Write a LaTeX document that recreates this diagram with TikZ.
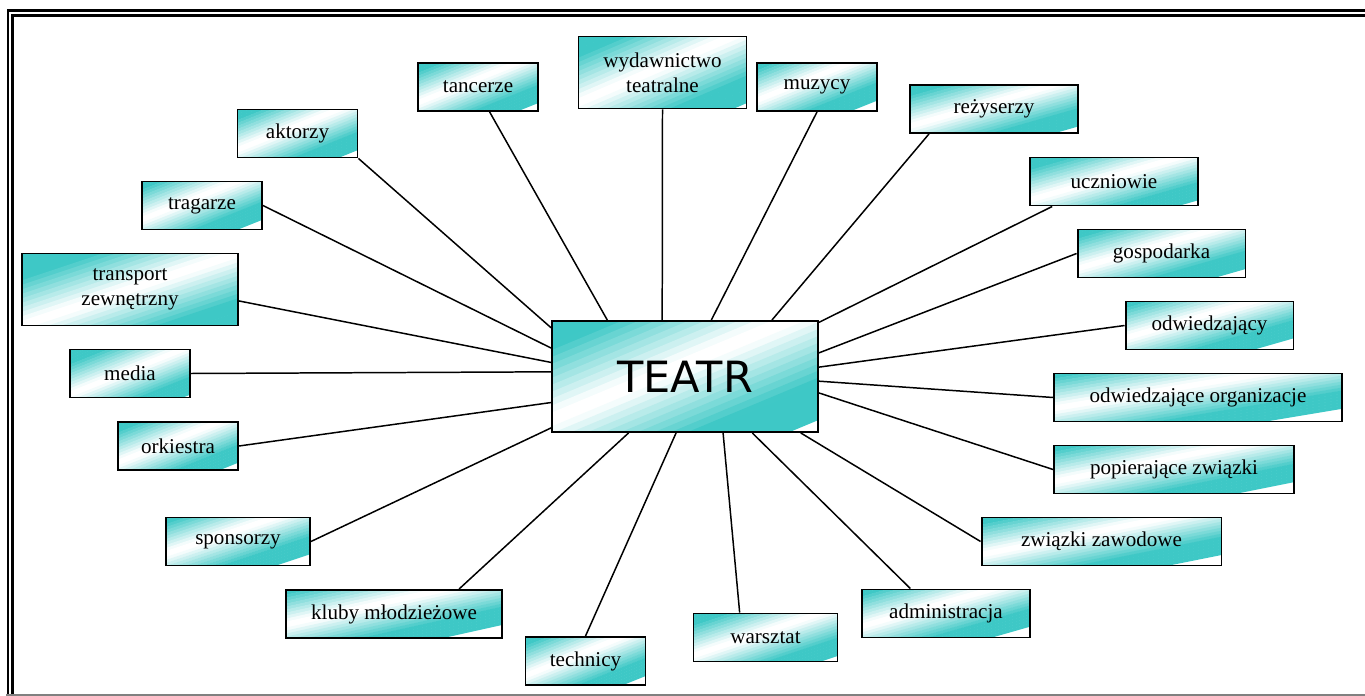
\documentclass[tikz,border=0pt]{standalone}
\usepackage{fontspec}
\setmainfont{Liberation Serif}
\newfontfamily\teatrfont{DejaVu Sans}
\usepackage{xcolor}

\definecolor{morski}{RGB}{62,200,198}
\newdimen\kafw
\newdimen\kafh

\tikzset{
  % ukosny gradient: morski w rogach lewy-gorny i prawy-dolny
  tecza/.style={path picture={
    \pgfextractx{\kafw}{\pgfpointdiff{\pgfpointanchor{path picture bounding box}{south west}}{\pgfpointanchor{path picture bounding box}{north east}}}
    \pgfextracty{\kafh}{\pgfpointdiff{\pgfpointanchor{path picture bounding box}{south west}}{\pgfpointanchor{path picture bounding box}{north east}}}
    \begin{scope}[x={(\kafw,0pt)}, y={(0pt,\kafh)}, shift={(path picture bounding box.south west)}]
      \foreach \k in {0,...,31}{
        \pgfmathsetmacro\ca{\k/16-1}
        \pgfmathsetmacro\cb{(\k+1)/16-1+0.008}
        \pgfmathsetmacro\odc{100*min(1,max(0,(abs((\k+0.5)/32-0.5)-0.03)/0.3))}
        \fill[morski!\odc!white] (\ca-1,-1) -- (\ca+2,2) -- (\cb+2,2) -- (\cb-1,-1) -- cycle;
      }
    \end{scope}}},
  ogniwo/.style={draw, line width=1.1pt, tecza, inner sep=0pt,
    minimum width=#1*0.48cm, minimum height=0.96cm, align=center,
    font=\fontsize{12}{14}\selectfont},
  ogniwo/.default=5,
  promien/.style={line width=0.85pt},
}

\begin{document}
\begin{tikzpicture}[x=0.02cm, y=-0.02cm]
\useasboundingbox (0,0) rectangle (1365,696);

% ramka
\draw[line width=1.4pt] (8,695) -- (8,10.5) -- (1365,10.5);
\draw[line width=1.7pt] (12.5,695) -- (12.5,15.5) -- (1365,15.5);
\draw[gray, line width=0.6pt] (6,695) -- (1365,695);

\node[ogniwo, minimum width=5.32cm, minimum height=2.22cm,
  font=\teatrfont\fontsize{24.5}{28}\selectfont] (teatr) at (685,376.5) {TEATR};

% lewa strona
\node[ogniwo] (aktorzy) at (297.5,133.5) {aktorzy};
\node[ogniwo] (tragarze) at (202,205.5) {tragarze};
\node[ogniwo=9, minimum height=1.44cm] (transport) at (130,289.5) {transport\\zewnętrzny};
\node[ogniwo] (media) at (130,373.5) {media};
\node[ogniwo] (orkiestra) at (178,446) {orkiestra};
\node[ogniwo=6] (sponsorzy) at (238,541.5) {sponsorzy};
\node[ogniwo=9] (kluby) at (394,614) {kluby młodzieżowe};

% dol
\node[ogniwo] (technicy) at (585.5,661) {technicy};
\node[ogniwo=6] (warsztat) at (765.5,637.5) {warsztat};
\node[ogniwo=7] (administracja) at (946,613.5) {administracja};

% prawa strona
\node[ogniwo=10] (zwiazki) at (1101.5,541.5) {związki zawodowe};
\node[ogniwo=10] (popierajace) at (1174,469.5) {popierające związki};
\node[ogniwo=12] (organizacje) at (1198,397.5) {odwiedzające organizacje};
\node[ogniwo=7] (odwiedzajacy) at (1209.5,325.5) {odwiedzający};
\node[ogniwo=7] (gospodarka) at (1161.5,253.5) {gospodarka};
\node[ogniwo=7] (uczniowie) at (1114,181.5) {uczniowie};

% gora
\node[ogniwo=7] (rezyserzy) at (994,109) {reżyserzy};
\node[ogniwo] (muzycy) at (817,87) {muzycy};
\node[ogniwo=7, minimum height=1.44cm] (wydawnictwo) at (662.5,72.5) {wydawnictwo\\teatralne};
\node[ogniwo] (tancerze) at (478,87) {tancerze};

% promienie do teatru
\foreach \z/\k in {aktorzy.south east/160.7, tragarze.east/168.7,
    transport.-6.6/174.6, media.east/178.9, orkiestra.east/191.3,
    sponsorzy.east/201.9, kluby.21.5/225.3, technicy.north/261.8,
    warsztat.136/304.4, administracja.145.8/320.8, zwiazki.west/334.6,
    popierajace.west/353.4, organizacje.west/358.5, odwiedzajacy.west/4.5,
    gospodarka.west/10, uczniowie.202.2/22.3, rezyserzy.201.5/33.1,
    muzycy.south/65.8, wydawnictwo.south/112.1, tancerze.-65.4/144.6}
  \draw[promien] (\z) -- (teatr.\k);

\end{tikzpicture}
\end{document}
